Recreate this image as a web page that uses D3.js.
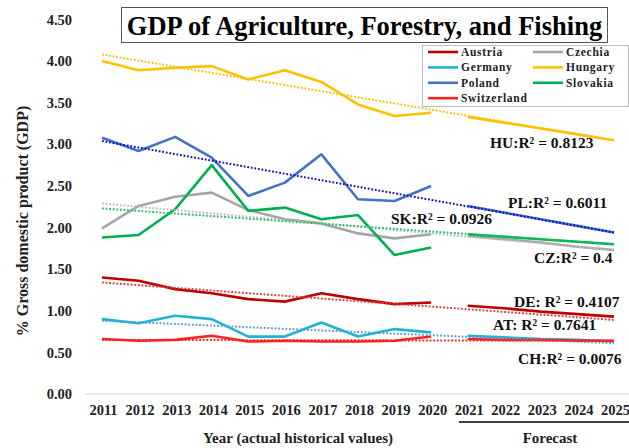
<!DOCTYPE html>
<html><head><meta charset="utf-8">
<script src="https://cdn.jsdelivr.net/npm/d3@7"></script>
<style>
html,body{margin:0;padding:0;background:#fff;}
svg{display:block;font-family:"Liberation Serif","Times New Roman",serif;font-weight:bold;}
</style></head>
<body><svg id="c" width="629" height="448"></svg>
<script>
// ---- data ----
const years = [2011,2012,2013,2014,2015,2016,2017,2018,2019,2020];
const forecastYears = [2021,2022,2023,2024,2025];
const allYears = [2011,2012,2013,2014,2015,2016,2017,2018,2019,2020,2021,2022,2023,2024,2025];
const yTicks = [0,0.5,1,1.5,2,2.5,3,3.5,4,4.5];

const countries = ["Austria","Czechia","Germany","Hungary","Poland","Slovakia","Switzerland"];
const colors = ["#C00000","#A5A5A5","#1FB4D2","#FFC000","#4472C4","#00B050","#FF2020"];
const trendColors = ["#E03A3A","#BDBDBD","#5B9BD5","#FFC000","#1010C0","#22C060","#FF2020"];

const austria     = [1.40,1.36,1.26,1.21,1.14,1.11,1.21,1.14,1.08,1.10];
const czechia     = [1.99,2.26,2.37,2.42,2.21,2.10,2.05,1.93,1.87,1.92];
const germany     = [0.90,0.85,0.94,0.90,0.69,0.69,0.86,0.69,0.78,0.74];
const hungary     = [4.00,3.89,3.92,3.94,3.78,3.89,3.75,3.48,3.34,3.38];
const poland      = [3.08,2.92,3.09,2.84,2.38,2.54,2.88,2.34,2.32,2.50];
const slovakia    = [1.88,1.91,2.22,2.75,2.20,2.24,2.10,2.15,1.67,1.76];
const switzerland = [0.66,0.64,0.65,0.70,0.63,0.64,0.63,0.63,0.64,0.69];

// forecasts 2021-2025
const austriaF     = [1.06,1.03,0.99,0.96,0.93];
const czechiaF     = [1.90,1.86,1.82,1.77,1.73];
const germanyF     = [0.70,0.68,0.66,0.65,0.63];
const hungaryF     = [3.33,3.26,3.19,3.12,3.05];
const polandF      = [2.26,2.18,2.10,2.02,1.94];
const slovakiaF    = [1.92,1.89,1.86,1.83,1.80];
const switzerlandF = [0.66,0.65,0.65,0.64,0.64];

// linear trend lines: value at 2011 and at 2025
const trendStart = [1.34,2.29,0.88,4.08,3.04,2.23,0.65];
const trendEnd   = [0.89,1.73,0.61,3.05,1.94,1.80,0.64];

const rLabels = ["HU:R² = 0.8123","PL:R² = 0.6011","SK:R² = 0.0926","CZ:R² = 0.4","DE: R² = 0.4107","AT: R² = 0.7641","CH:R² = 0.0076"];

const series = [austria,czechia,germany,hungary,poland,slovakia,switzerland];
const forecasts = [austriaF,czechiaF,germanyF,hungaryF,polandF,slovakiaF,switzerlandF];

// ---- drawing ----
const svg = d3.select("#c");
const x = d3.scaleLinear().domain([2011,2025]).range([102,614]);
const y = d3.scaleLinear().domain([0,4.5]).range([394,19.5]);

// baseline
svg.append("line").attr("x1",85).attr("x2",629).attr("y1",y(0)).attr("y2",y(0))
  .attr("stroke","#D9D9D9").attr("stroke-width",1.2);

// y axis labels
const yAxis = d3.axisLeft(y).tickValues(yTicks).tickFormat(d3.format(".2f")).tickSize(0).tickPadding(0);
const gy = svg.append("g").attr("transform","translate(72,0)").call(yAxis);
gy.select(".domain").remove();
gy.selectAll("text").attr("font-size","14.5px").attr("font-family","Liberation Serif, serif").attr("font-weight","bold").attr("fill","#222");

// x axis labels
const xAxis = d3.axisBottom(x).tickValues(allYears).tickFormat(d3.format("d")).tickSize(0).tickPadding(0);
const gx = svg.append("g").attr("transform","translate(1,405)").call(xAxis);
gx.select(".domain").remove();
gx.selectAll("text").attr("font-size","14.5px").attr("font-family","Liberation Serif, serif").attr("font-weight","bold").attr("fill","#222");

const line = d3.line().x(d=>x(d[0])).y(d=>y(d[1]));

// forecast solid lines
forecasts.forEach((f,i)=>{
  svg.append("path").datum(forecastYears.map((yr,j)=>[yr,f[j]]))
    .attr("d",line).attr("fill","none").attr("stroke",colors[i]).attr("stroke-width",2.6);
});

// data lines
series.forEach((s,i)=>{
  svg.append("path").datum(years.map((yr,j)=>[yr,s[j]]))
    .attr("d",line).attr("fill","none").attr("stroke",colors[i]).attr("stroke-width",2.6)
    .attr("stroke-linejoin","round");
});

// trend lines (dotted)
trendStart.forEach((t,i)=>{
  svg.append("path").datum([[2011,t],[2025,trendEnd[i]]])
    .attr("d",line).attr("fill","none").attr("stroke",trendColors[i]).attr("stroke-width",2)
    .attr("stroke-dasharray","1.8,1.8");
});

// R² labels
const labelPos = [[490,143],[508,203],[391,219],[534,258],[514,302],[493,325],[518,359]];
rLabels.forEach((t,i)=>{
  svg.append("text").attr("x",labelPos[i][0]).attr("y",labelPos[i][1]).attr("dy","0.35em")
    .attr("font-size","15.5px").attr("fill","#111").text(t);
});

// title
svg.append("rect").attr("x",121.5).attr("y",7.5).attr("width",486).attr("height",35)
  .attr("fill","#fff").attr("stroke","#555").attr("stroke-width",1);
svg.append("text").attr("x",364.5).attr("y",35).attr("text-anchor","middle")
  .attr("font-size","26.5px").attr("fill","#000").text("GDP of Agriculture, Forestry, and Fishing");

// legend
svg.append("rect").attr("x",422.5).attr("y",45.5).attr("width",206).attr("height",61)
  .attr("fill","#fff").attr("stroke","#BFBFBF").attr("stroke-width",1);
countries.forEach((c,i)=>{
  const col = i%2, row = Math.floor(i/2);
  const lx = col===0 ? 428 : 533, ly = 52 + row*15.4;
  svg.append("line").attr("x1",lx).attr("x2",lx+30).attr("y1",ly).attr("y2",ly)
    .attr("stroke",colors[i]).attr("stroke-width",2.6);
  svg.append("text").attr("x",lx+33).attr("y",ly).attr("dy","0.35em")
    .attr("font-size","11.5px").attr("letter-spacing","0.7px").attr("fill","#222").text(c);
});

// axis titles
svg.append("text").attr("x",298).attr("y",438).attr("dy","0.35em").attr("text-anchor","middle")
  .attr("font-size","15px").attr("fill","#222").text("Year (actual historical values)");
svg.append("text").attr("x",550).attr("y",438).attr("dy","0.35em").attr("text-anchor","middle")
  .attr("font-size","15px").attr("fill","#222").text("Forecast");
svg.append("line").attr("x1",459).attr("x2",629).attr("y1",422).attr("y2",422)
  .attr("stroke","#000").attr("stroke-width",1.5);
svg.append("text").attr("transform","translate(22,221) rotate(-90)").attr("dy","0.35em")
  .attr("text-anchor","middle").attr("font-size","16px").attr("fill","#222")
  .text("% Gross domestic product (GDP)");
</script></body></html>
